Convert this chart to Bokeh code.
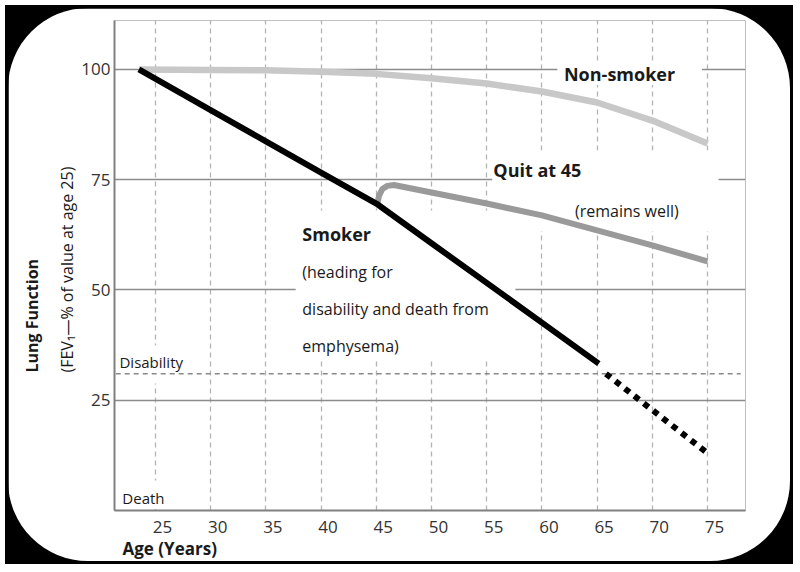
from bokeh.plotting import figure
from bokeh.models import Label, BoxAnnotation, FixedTicker, Range1d, Title
from bokeh.layouts import column
from bokeh.embed import file_html
from bokeh.resources import INLINE

# ---------------- data ----------------
age_ticks = [25, 30, 35, 40, 45, 50, 55, 60, 65, 70, 75]
value_ticks = [25, 50, 75, 100]
disability_level = 31

nonsmoker_age = [23.5, 30, 35, 40, 45, 50, 55, 60, 65, 70, 75]
nonsmoker_val = [100, 99.9, 99.8, 99.5, 99.0, 98.0, 96.8, 95.0, 92.5, 88.4, 83.2]

smoker_age = [23.5, 30, 35, 40, 45, 50, 55, 60, 65.15]
smoker_val = [100, 90.8, 83.7, 76.6, 69.6, 60.6, 51.6, 42.6, 33.3]

smoker_proj_age = [65.8, 75.0]
smoker_proj_val = [31.0, 13.0]

quit_age = [45.1, 45.25, 45.55, 46.0, 46.6, 50, 55, 60, 65, 70, 75]
quit_val = [69.6, 71.4, 72.9, 73.6, 73.8, 72.1, 69.6, 66.9, 63.5, 60.1, 56.5]

FONT = "Open Sans"
TXT = "#1a1a1a"

X0, X1 = 21.29, 78.44
LABEL_SHIFT = 0.634   # tick numbers sit a little right of their grid lines

# ---------------- figure ----------------
p = figure(width=782, height=553,
           x_range=Range1d(X0, X1), y_range=Range1d(0, 111.1),
           output_backend="svg", toolbar_location=None,
           min_border_left=106, min_border_right=45,
           min_border_top=12, min_border_bottom=51)
p.extra_x_ranges = {"lab": Range1d(X0 - LABEL_SHIFT, X1 - LABEL_SHIFT)}
p.margin = (3, 3, 3, 3)
p.styles = {"border-radius": "80px", "overflow": "hidden"}
p.background_fill_color = "white"
p.border_fill_color = "white"
p.outline_line_color = None

p.xaxis.x_range_name = "lab"
p.xaxis.ticker = FixedTicker(ticks=age_ticks)
p.yaxis.ticker = FixedTicker(ticks=value_ticks)
for ax in (p.xaxis, p.yaxis):
    ax.axis_line_color = "#808080"
    ax.axis_line_width = 2
    ax.major_tick_line_color = None
    ax.minor_tick_line_color = None
    ax.major_tick_in = 0
    ax.major_tick_out = 0
    ax.minor_tick_in = 0
    ax.minor_tick_out = 0
    ax.major_label_text_font = FONT
    ax.major_label_text_font_size = "17px"
    ax.major_label_text_color = "#333333"
p.xaxis.major_label_standoff = 10
p.yaxis.major_label_standoff = 4

p.xgrid.ticker = FixedTicker(ticks=age_ticks)
p.xgrid.x_range_name = "default"
p.xgrid.grid_line_color = "#b3b3b3"
p.xgrid.grid_line_width = 1.3
p.xgrid.grid_line_dash = "5 4"
p.ygrid.ticker = FixedTicker(ticks=value_ticks)
p.ygrid.grid_line_color = "#8c8c8c"
p.ygrid.grid_line_width = 1.5

# axis titles
p.add_layout(Title(text="(FEV\u2081\u2014% of value at age 25)", align="left", offset=138,
                   vertical_align="middle", standoff=0, text_font=FONT,
                   text_font_size="16px", text_font_style="normal", text_color=TXT), "left")
p.add_layout(Title(text="Lung Function", align="left", offset=138,
                   vertical_align="middle", standoff=22, text_font=FONT,
                   text_font_size="16px", text_font_style="bold", text_color=TXT), "left")
p.add_layout(Title(text="Age (Years)", align="left", offset=8,
                   vertical_align="middle", standoff=0, text_font=FONT,
                   text_font_size="17px", text_font_style="bold", text_color=TXT), "below")

# white masks that open gaps in the grid around the texts
masks = [
    dict(left=61.4, right=74.5, bottom=96.5, top=101.6),   # Non-smoker
    dict(left=55.5, right=76.0, bottom=63.3, top=81.6),    # Quit at 45 / remains well
    dict(left=37.7, right=57.6, bottom=34.0, top=68.0),    # Smoker block
    dict(left=21.45, right=28.5, bottom=28.8, top=37.4),   # Disability
    dict(left=21.45, right=27.5, bottom=0.35, top=6.8),    # Death
]
for m in masks:
    p.add_layout(BoxAnnotation(fill_color="white", fill_alpha=1.0, line_color=None,
                               line_alpha=0, **m))

# disability threshold (dashed)
r = p.line([21.4, 78.0], [disability_level, disability_level], line_color="#8a8a8a",
           line_width=1.4, line_dash="5 4")
r.level = "overlay"

# curves
r = p.line(nonsmoker_age, nonsmoker_val, line_color="#c8c8c8", line_width=6.5, line_join="round")
r.level = "overlay"
r = p.line(quit_age, quit_val, line_color="#9a9a9a", line_width=6, line_join="round")
r.level = "overlay"
r = p.line(smoker_age, smoker_val, line_color="black", line_width=6, line_join="round")
r.level = "overlay"
r = p.line(smoker_proj_age, smoker_proj_val, line_color="black", line_width=6, line_dash="6 6")
r.level = "overlay"


def add_label(x, y, text, size, bold=False):
    p.add_layout(Label(x=x, y=y, text=text, text_font=FONT, text_font_size=size,
                       text_font_style="bold" if bold else "normal", text_color=TXT,
                       text_align="left", text_baseline="middle"))


add_label(62.0, 98.9, "Non-smoker", "18px", bold=True)
add_label(55.6, 77.1, "Quit at 45", "18px", bold=True)
add_label(63.0, 68.0, "(remains well)", "16px")
add_label(38.3, 62.8, "Smoker", "18px", bold=True)
add_label(38.3, 54.0, "(heading for", "16px")
add_label(38.3, 45.6, "disability and death from", "16px")
add_label(38.3, 37.4, "emphysema)", "16px")
add_label(21.74, 33.6, "Disability", "15px")
add_label(22.0, 2.9, "Death", "15px")

layout = column(p, styles={"background-color": "black"}, margin=(5, 5, 5, 5))

open("out.html", "w").write(file_html(layout, INLINE))
